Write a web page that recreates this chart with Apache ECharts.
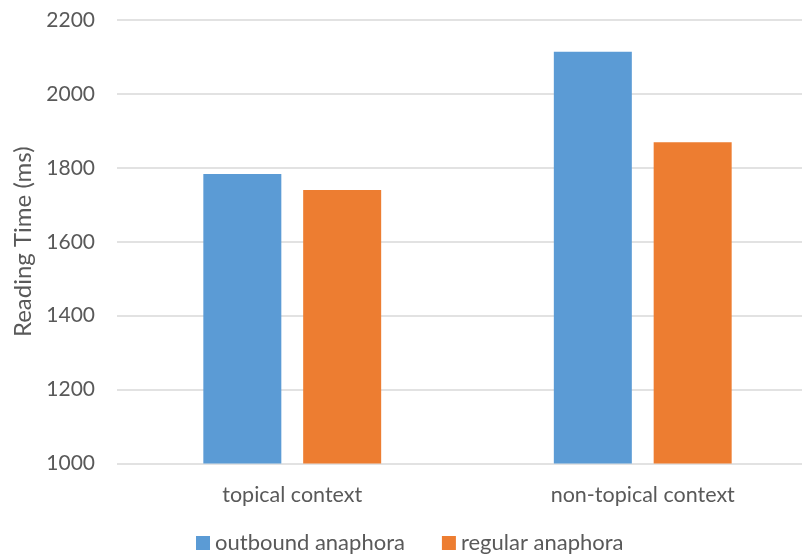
<!DOCTYPE html>
<html>
<head>
<meta charset="utf-8">
<script src="https://cdn.jsdelivr.net/npm/echarts@6/dist/echarts.min.js"></script>
<style>
  html, body { margin: 0; padding: 0; background: #fff; }
  #chart { width: 802px; height: 559px; }
</style>
</head>
<body>
<div id="chart"></div>
<script>
// Mean reading times per context condition
const categories = ['topical context', 'non-topical context'];
const outboundAnaphora = [1783, 2114];
const regularAnaphora = [1740, 1869];
const seriesNames = ['outbound anaphora', 'regular anaphora'];

const textColor = '#595959';
const fontFamily = 'Lato, "Open Sans", sans-serif';

const chart = echarts.init(document.getElementById('chart'));
chart.setOption({
  animation: false,
  textStyle: { fontFamily: fontFamily },
  grid: { left: 117, top: 20, width: 701, bottom: 95.5, containLabel: false, outerBoundsMode: 'none' },
  legend: {
    data: seriesNames,
    top: 527,
    left: 191,
    itemWidth: 14,
    itemHeight: 14,
    itemGap: 37,
    icon: 'rect',
    textStyle: { color: textColor, fontSize: 22, fontFamily: fontFamily }
  },
  xAxis: {
    type: 'category',
    data: categories,
    axisLine: { show: false },
    axisTick: { show: false },
    axisLabel: { color: textColor, fontSize: 21.5, margin: 21, fontFamily: fontFamily }
  },
  yAxis: {
    type: 'value',
    min: 1000,
    max: 2200,
    interval: 200,
    name: 'Reading Time (ms)',
    nameLocation: 'middle',
    nameGap: 80,
    nameTextStyle: { color: textColor, fontSize: 24, fontFamily: fontFamily },
    axisLine: { show: false },
    axisTick: { show: false },
    axisLabel: { color: textColor, fontSize: 21, margin: 22, fontFamily: fontFamily, formatter: (v) => String(v) },
    splitLine: { lineStyle: { color: '#d9d9d9', width: 1.5 } }
  },
  series: [
    {
      name: seriesNames[0],
      type: 'bar',
      data: outboundAnaphora,
      barWidth: 78,
      barGap: '28%',
      itemStyle: { color: '#5b9bd5' }
    },
    {
      name: seriesNames[1],
      type: 'bar',
      data: regularAnaphora,
      barWidth: 78,
      barGap: '28%',
      itemStyle: { color: '#ed7d31' }
    }
  ]
});
</script>
</body>
</html>
